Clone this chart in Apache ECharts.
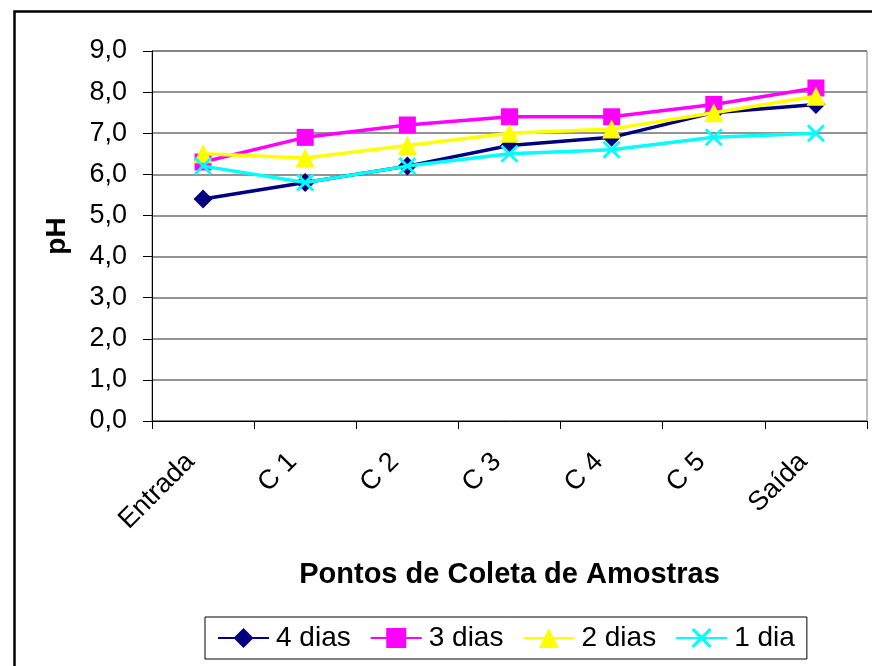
<!DOCTYPE html>
<html>
<head>
<meta charset="utf-8">
<script src="https://cdn.jsdelivr.net/npm/echarts@6/dist/echarts.min.js"></script>
<style>
html,body{margin:0;padding:0;background:#fff;}
#chart{width:872px;height:666px;}
</style>
</head>
<body>
<div id="chart"></div>
<script>
var categories = ['Entrada', 'C 1', 'C 2', 'C 3', 'C 4', 'C 5', 'Saída'];
var seriesNames = ['4 dias', '3 dias', '2 dias', '1 dia'];
var dias4 = [5.4, 5.8, 6.2, 6.7, 6.9, 7.5, 7.7];
var dias3 = [6.3, 6.9, 7.2, 7.4, 7.4, 7.7, 8.1];
var dias2 = [6.5, 6.4, 6.7, 7.0, 7.1, 7.5, 7.9];
var dia1  = [6.2, 5.8, 6.2, 6.5, 6.6, 6.9, 7.0];
var yTicks = [0, 1, 2, 3, 4, 5, 6, 7, 8, 9];

var xPath = 'path://M0,1.1 L1.1,0 L5,3.9 L8.9,0 L10,1.1 L6.1,5 L10,8.9 L8.9,10 L5,6.1 L1.1,10 L0,8.9 L3.9,5 Z';
var colors = ['#000080', '#FF00FF', '#FFFF00', '#00FFFF'];
var symbols = ['diamond', 'rect', 'triangle', xPath];
var sizes = [[19, 19], 17, [19, 19], 18];
var datas = [dias4, dias3, dias2, dia1];

var font = 'Liberation Sans, Arial, sans-serif';
var chart = echarts.init(document.getElementById('chart'), null, {renderer: 'canvas'});
chart.setOption({
  backgroundColor: '#ffffff',
  animation: false,
  color: colors,
  graphic: [{
    type: 'rect', left: 12, top: 9, z: 100, silent: true,
    shape: {x: 0, y: 0, width: 900, height: 700},
    style: {fill: 'none', stroke: '#000', lineWidth: 2.5}
  }],
  grid: {left: 152, top: 51, width: 715, height: 370, show: true, borderColor: '#808080', borderWidth: 1},
  legend: {
    left: 205, top: 617, padding: [7, 12],
    borderColor: '#000', borderWidth: 1,
    itemWidth: 51, itemHeight: 25, itemGap: 19,
    textStyle: {fontSize: 28, fontFamily: font, color: '#000', padding: [0, 0, 0, 2]},
    data: seriesNames
  },
  xAxis: {
    type: 'category', data: categories, boundaryGap: true,
    name: 'Pontos de Coleta de Amostras', nameLocation: 'middle', nameGap: 139,
    nameTextStyle: {fontSize: 29, fontWeight: 'bold', fontFamily: font, color: '#000'},
    axisLine: {lineStyle: {color: '#000', width: 1}},
    axisTick: {show: true, length: 8, lineStyle: {color: '#000'}},
    axisLabel: {rotate: 45, margin: 24, fontSize: 27, fontFamily: font, color: '#000', interval: 0,
      padding: [0, 18, 0, 0]},
    splitLine: {show: false}
  },
  yAxis: {
    type: 'value', min: 0, max: 9, interval: 1,
    name: 'pH', nameLocation: 'middle', nameGap: 81, nameRotate: 90,
    nameTextStyle: {fontSize: 28, fontWeight: 'bold', fontFamily: font, color: '#000'},
    axisLine: {show: true, lineStyle: {color: '#000', width: 1}},
    axisTick: {show: true, length: 9, lineStyle: {color: '#000'}},
    axisLabel: {margin: 25, fontSize: 27, fontFamily: font, color: '#000',
      formatter: function (v) { return v.toFixed(1).replace('.', ','); }},
    splitLine: {show: true, lineStyle: {color: '#707070', width: 1.5}}
  },
  series: seriesNames.map(function (n, i) {
    return {
      name: n, type: 'line', data: datas[i],
      symbol: symbols[i], symbolSize: sizes[i], showAllSymbol: true,
      lineStyle: {color: colors[i], width: 3.5},
      itemStyle: {color: colors[i]},
      z: 10 + i
    };
  })
});
</script>
</body>
</html>
